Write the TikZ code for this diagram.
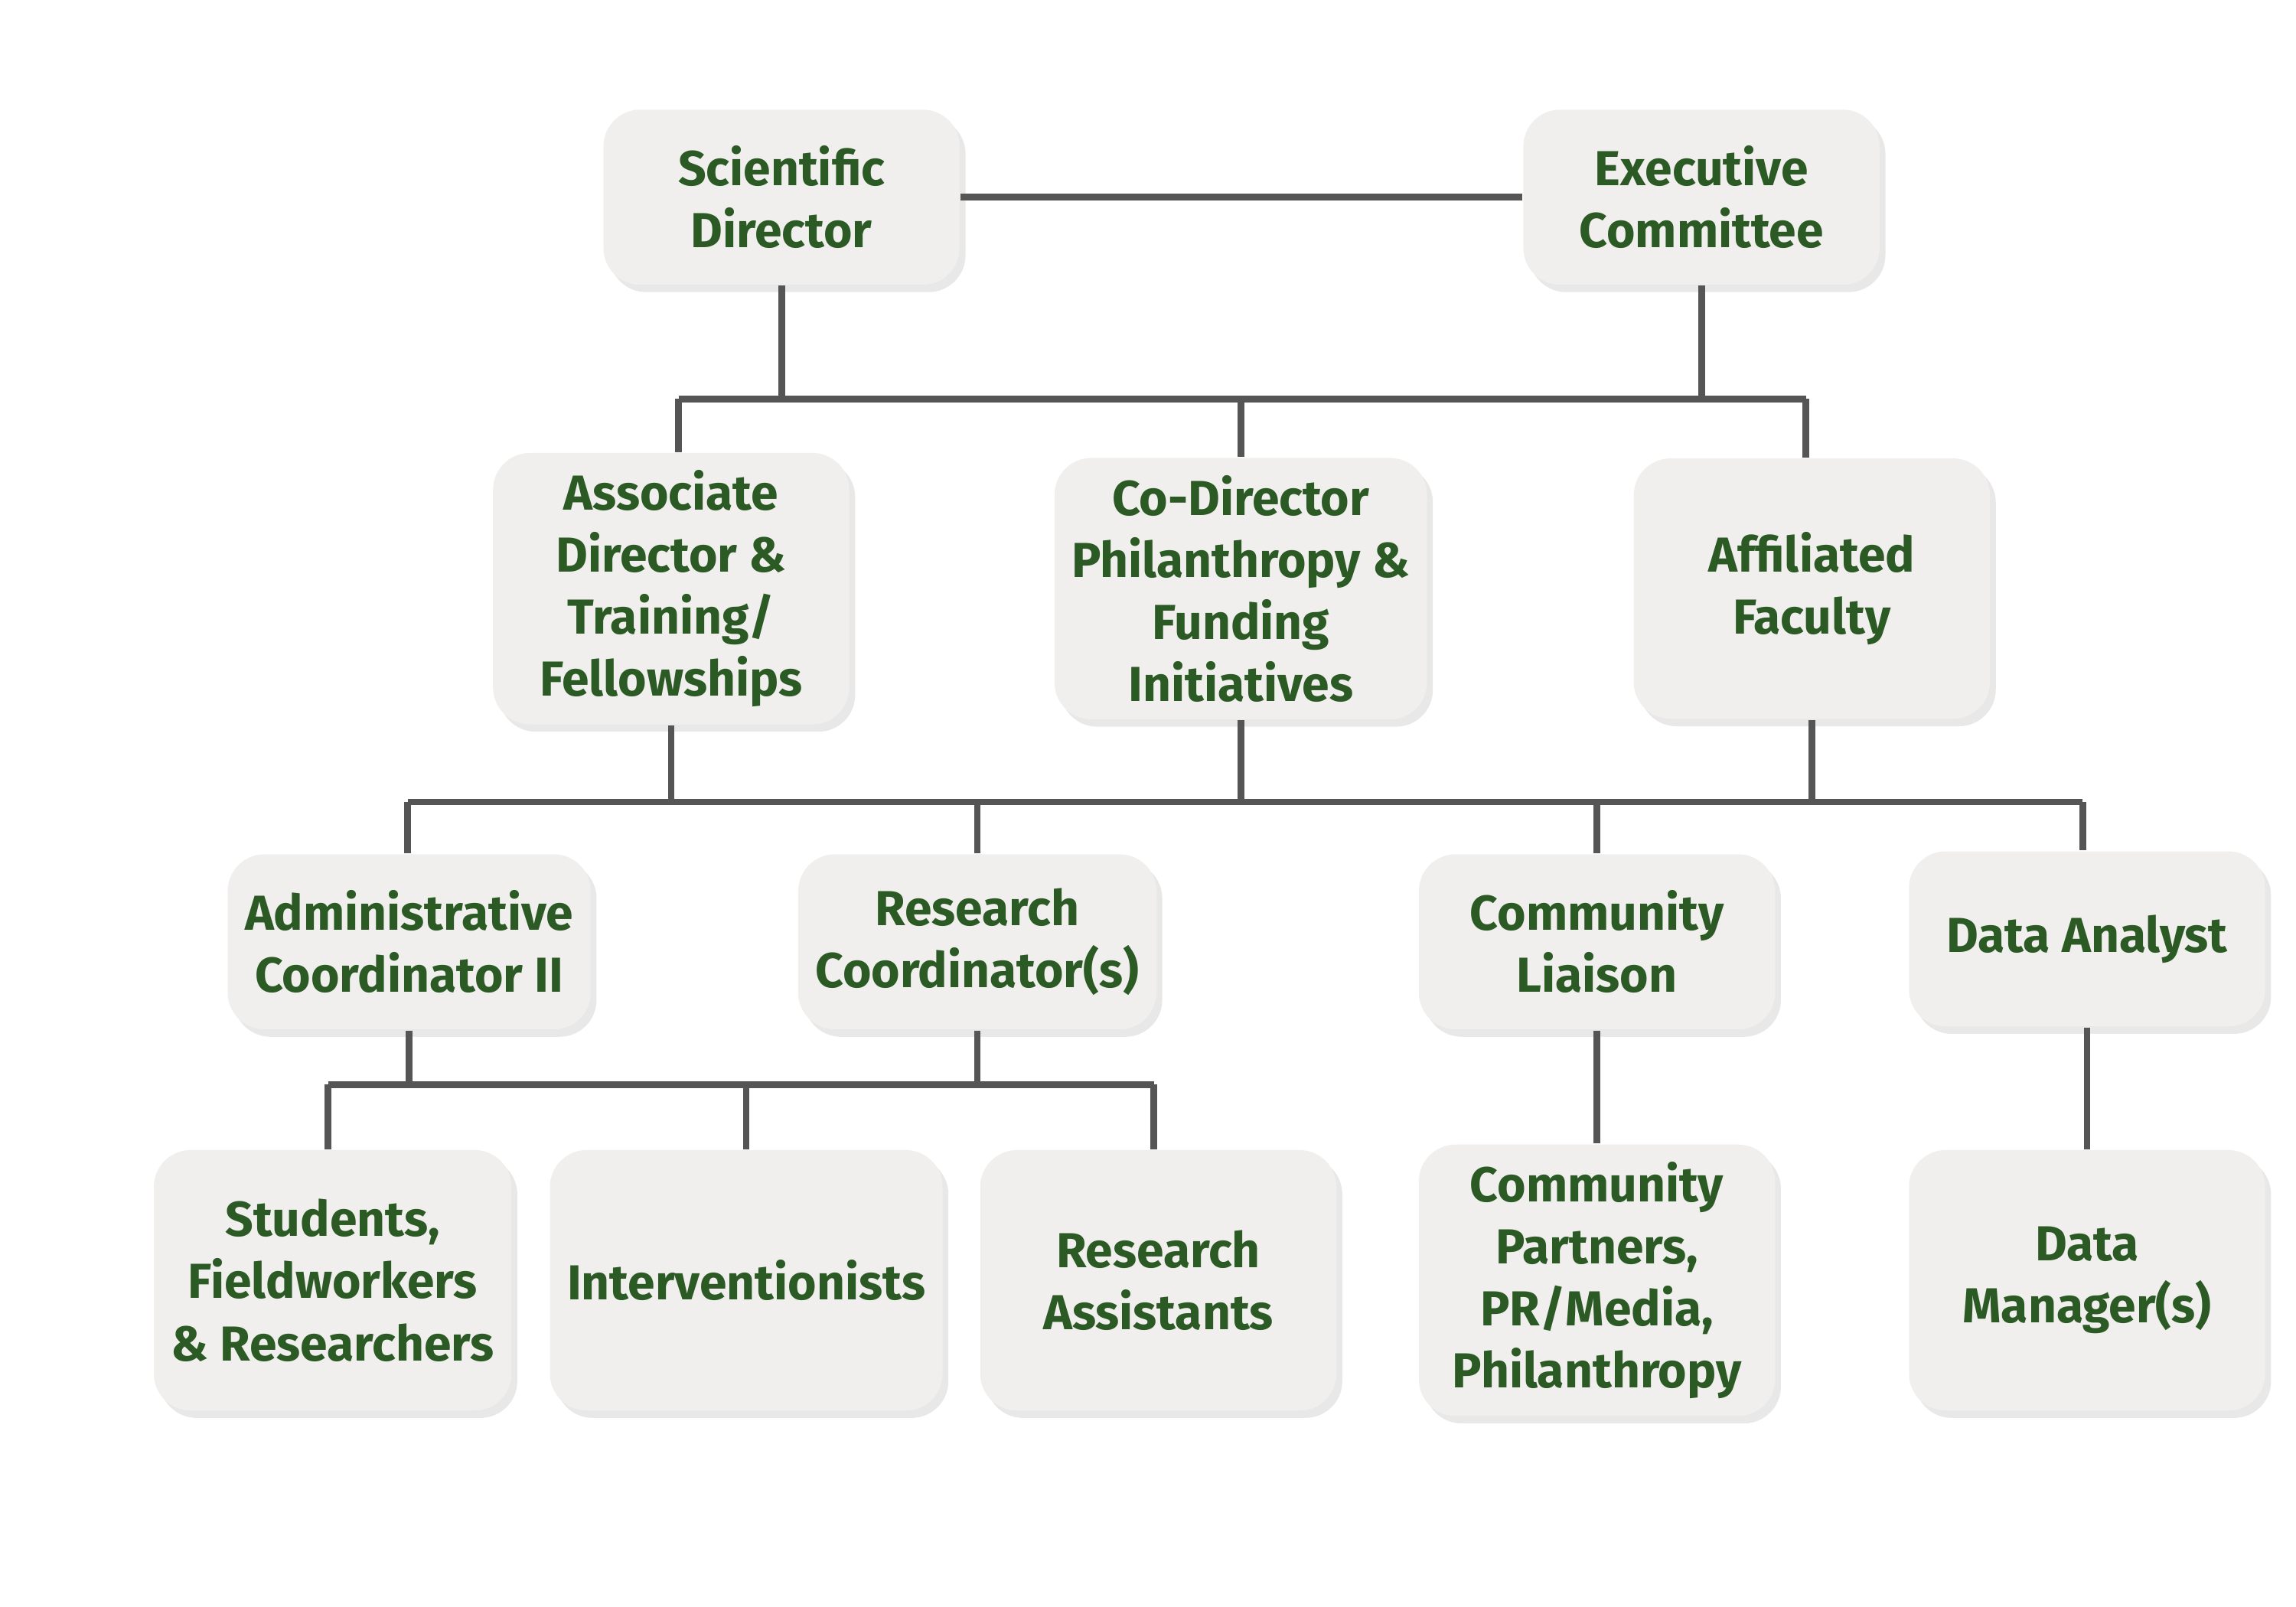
\documentclass[tikz,border=0pt]{standalone}
\usepackage{fontspec}
\setmainfont{Fira Sans}
\usetikzlibrary{shadows}
\definecolor{boxfill}{HTML}{F0EFED}
\definecolor{txtgreen}{HTML}{2C5A24}
\definecolor{linegray}{HTML}{555555}
\tikzset{
  unit/.style={rectangle,rounded corners=0.25cm,fill=boxfill,minimum width=2.42cm,
    minimum height=1.19cm,align=center,text=txtgreen,font=\fontsize{9.5}{12}\selectfont\bfseries,
    drop shadow={shadow xshift=0.04cm,shadow yshift=-0.05cm,fill=black!18,opacity=0.5}},
  tall/.style={unit,minimum height=1.77cm},
  link/.style={draw=linegray,line width=1.3pt}
}
\begin{document}
\begin{tikzpicture}
  \useasboundingbox (0,0) rectangle (15.6,-10.92);
  \path
  (5.31,-1.34)  node[unit](sd) {Scientific\\Director}
  (11.56,-1.34) node[unit](ec) {Executive\\Committee}

  (4.56,-4.00)  node[tall](ad) {Associate\\Director \&\\Training/\\Fellowships}
  (8.43,-4.00)  node[tall](cd) {Co-Director\\Philanthropy \&\\Funding\\Initiatives}
  (12.31,-4.00) node[tall](af) {Affiliated\\Faculty}

  (2.78,-6.40)  node[unit](ac) {Administrative\\Coordinator II}
  (6.64,-6.40)  node[unit](rc) {Research\\Coordinator(s)}
  (10.85,-6.40) node[unit](cl) {Community\\Liaison}
  (14.18,-6.38) node[unit](da) {Data Analyst}

  (2.26,-8.70)  node[tall](st) {Students,\\Fieldworkers\\\& Researchers}
  (5.07,-8.70)  node[tall](iv) {Interventionists}
  (7.87,-8.70)  node[tall](ra) {Research\\Assistants}
  (10.85,-8.70) node[tall](cp) {Community\\Partners,\\PR/Media,\\Philanthropy}
  (14.18,-8.70) node[tall](dm) {Data\\Manager(s)}
  ;

  % top level
  \draw[link] (sd) -- (ec);
  \coordinate (b1l) at (4.61,-2.71);
  \coordinate (b1r) at (12.27,-2.71);
  \draw[link] (b1l) -- (b1r);
  \draw[link] (sd.south) -- (sd.south |- b1l);
  \draw[link] (ec.south) -- (ec.south |- b1l);
  \draw[link] (b1l) -- (b1l |- ad.north);
  \draw[link] (cd.north |- b1l) -- (cd.north);
  \draw[link] (b1r) -- (b1r |- af.north);

  % second level
  \coordinate (b2l) at (2.77,-5.45);
  \coordinate (b2r) at (14.15,-5.45);
  \draw[link] (b2l) -- (b2r);
  \draw[link] (ad.south) -- (ad.south |- b2l);
  \draw[link] (cd.south) -- (cd.south |- b2l);
  \draw[link] (af.south) -- (af.south |- b2l);
  \draw[link] (b2l) -- (b2l |- ac.north);
  \draw[link] (rc.north |- b2l) -- (rc.north);
  \draw[link] (cl.north |- b2l) -- (cl.north);
  \draw[link] (b2r) -- (b2r |- da.north);

  % third level
  \coordinate (b3l) at (2.23,-7.37);
  \coordinate (b3r) at (7.84,-7.37);
  \draw[link] (b3l) -- (b3r);
  \draw[link] (ac.south) -- (ac.south |- b3l);
  \draw[link] (rc.south) -- (rc.south |- b3l);
  \draw[link] (b3l) -- (b3l |- st.north);
  \draw[link] (iv.north |- b3l) -- (iv.north);
  \draw[link] (b3r) -- (b3r |- ra.north);
  \draw[link] (cl) -- (cp);
  \draw[link] (da) -- (dm);
\end{tikzpicture}
\end{document}
